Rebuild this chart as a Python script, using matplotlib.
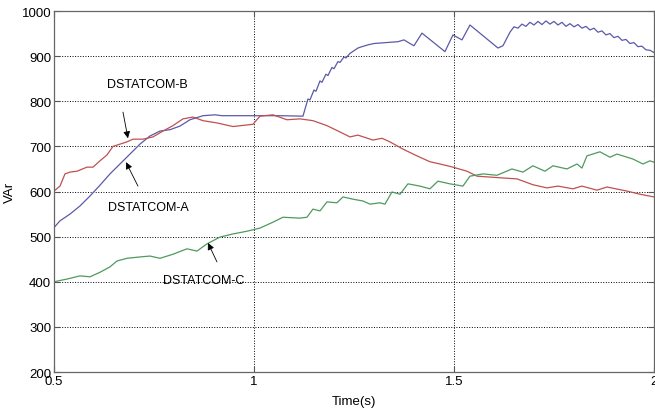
import numpy as np
import matplotlib
matplotlib.use('Agg')
import matplotlib.pyplot as plt

plt.rcParams['font.family'] = ['Liberation Sans', 'DejaVu Sans']

# DSTATCOM-A (blue)
t_a = [0.500, 0.515, 0.540, 0.565, 0.590, 0.615, 0.640, 0.665, 0.690, 0.715,
       0.740, 0.765, 0.790, 0.815, 0.840, 0.8725, 0.9025, 0.92, 0.99, 1.065,
       1.1225, 1.13, 1.135, 1.14, 1.15, 1.155, 1.165, 1.17, 1.18, 1.185,
       1.195, 1.20, 1.21, 1.215, 1.225, 1.23, 1.24, 1.25, 1.26, 1.27,
       1.285, 1.30, 1.33, 1.36, 1.375, 1.39, 1.40, 1.42, 1.4775, 1.4975,
       1.52, 1.54, 1.61, 1.6225, 1.64, 1.65, 1.66, 1.67, 1.68, 1.69,
       1.70, 1.71, 1.72, 1.73, 1.74, 1.75, 1.76, 1.77, 1.78, 1.79,
       1.80, 1.81, 1.82, 1.83, 1.84, 1.85, 1.86, 1.87, 1.88, 1.89,
       1.90, 1.91, 1.92, 1.93, 1.94, 1.95, 1.96, 1.97, 1.98, 1.99, 2.00]
q_a = [520, 535, 550, 568, 590, 614, 639, 661, 683, 705,
       723, 734, 737, 745, 759, 768, 770, 768, 768, 768,
       767, 790, 805, 803, 825, 822, 845, 842, 860, 857,
       875, 872, 888, 886, 898, 896, 906, 912, 918, 921,
       925, 928, 930, 932, 936, 928, 923, 951, 910, 947,
       936, 969, 918, 923, 953, 965, 962, 971, 966, 975,
       969, 977, 970, 978, 971, 977, 969, 975, 966, 972,
       965, 970, 962, 966, 958, 962, 953, 956, 947, 950,
       941, 944, 935, 937, 928, 930, 921, 922, 914, 913, 908]

# DSTATCOM-B (red)
t_b = [0.500, 0.515, 0.5275, 0.54, 0.5575, 0.5825, 0.5975, 0.615, 0.6325, 0.6475,
       0.665, 0.6825, 0.6975, 0.7225, 0.7475, 0.7725, 0.7975, 0.8225, 0.8475, 0.8725,
       0.9075, 0.9475, 0.9975, 1.015, 1.0475, 1.0825, 1.115, 1.1475, 1.1825, 1.215,
       1.24, 1.26, 1.2975, 1.32, 1.34, 1.3725, 1.4075, 1.44, 1.465, 1.4975,
       1.5325, 1.5575, 1.59, 1.6225, 1.6575, 1.6975, 1.7325, 1.76, 1.7975, 1.82,
       1.8575, 1.8825, 1.9325, 1.965, 2.00]
q_b = [601, 612, 639, 643, 645, 654, 654, 668, 681, 700,
       705, 710, 716, 716, 721, 734, 746, 761, 765, 757,
       752, 744, 749, 767, 770, 759, 761, 757, 746, 732,
       721, 725, 714, 718, 710, 694, 679, 666, 661, 654,
       645, 634, 632, 630, 628, 615, 608, 612, 606, 612,
       603, 610, 601, 594, 588]

# DSTATCOM-C (green)
t_c = [0.500, 0.5325, 0.565, 0.59, 0.615, 0.64, 0.6575, 0.6825, 0.715, 0.74,
       0.765, 0.7975, 0.8325, 0.8575, 0.8825, 0.915, 0.9475, 0.9825, 1.015, 1.0475,
       1.0725, 1.115, 1.1325, 1.1475, 1.165, 1.1825, 1.2075, 1.2225, 1.2475, 1.2725,
       1.29, 1.315, 1.3275, 1.345, 1.365, 1.385, 1.415, 1.44, 1.46, 1.49,
       1.5225, 1.54, 1.5725, 1.6075, 1.645, 1.6725, 1.6975, 1.7275, 1.7475, 1.7825,
       1.8075, 1.82, 1.8325, 1.865, 1.89, 1.9075, 1.9475, 1.9725, 1.99, 2.00]
q_c = [400, 406, 413, 411, 421, 433, 446, 452, 455, 457,
       452, 461, 473, 468, 484, 499, 506, 512, 519, 532,
       543, 541, 543, 561, 557, 577, 575, 588, 583, 579,
       572, 575, 572, 599, 594, 617, 612, 606, 623, 617,
       612, 634, 639, 636, 650, 643, 657, 645, 657, 650,
       661, 652, 679, 688, 676, 683, 672, 661, 668, 665]

xticks = [0.5, 1, 1.5, 2]
xtick_labels = ['0.5', '1', '1.5', '2']
yticks = [200, 300, 400, 500, 600, 700, 800, 900, 1000]

fig = plt.figure(figsize=(6.55, 4.10), dpi=100)
ax = fig.add_axes([0.0824, 0.0902, 0.916, 0.8805])

ax.plot(t_a, q_a, color='#5a5aa8', lw=0.9)
ax.plot(t_b, q_b, color='#c05050', lw=0.9)
ax.plot(t_c, q_c, color='#4e9a5e', lw=0.9)

ax.set_xlim(0.5, 2.0)
ax.set_ylim(200, 1000)
ax.set_xticks(xticks)
ax.set_xticklabels(xtick_labels)
ax.set_yticks(yticks)
ax.grid(True, color='black', linestyle=':', linewidth=0.7)
ax.tick_params(direction='in', top=True, right=True, length=4, width=0.8,
               labelsize=9.5, pad=2, color='#555555')
for s in ax.spines.values():
    s.set_color('#666666')
    s.set_linewidth(0.9)

ax.set_xlabel('Time(s)', fontsize=9.5, labelpad=6)
ax.set_ylabel('VAr', fontsize=9.5, labelpad=4)

# annotations
arrow = dict(arrowstyle='-|>', color='black', lw=0.6, mutation_scale=10,
             shrinkA=0, shrinkB=0)
ax.text(0.6325, 838, 'DSTATCOM-B', fontsize=9, va='center', ha='left')
ax.annotate('', xy=(0.685, 718), xytext=(0.6725, 776), arrowprops=arrow)
ax.text(0.635, 566, 'DSTATCOM-A', fontsize=9, va='center', ha='left')
ax.annotate('', xy=(0.68, 665), xytext=(0.71, 612), arrowprops=arrow)
ax.text(0.7725, 404, 'DSTATCOM-C', fontsize=9, va='center', ha='left')
ax.annotate('', xy=(0.885, 486), xytext=(0.9075, 444), arrowprops=arrow)

fig.savefig('out.png', dpi=100)
